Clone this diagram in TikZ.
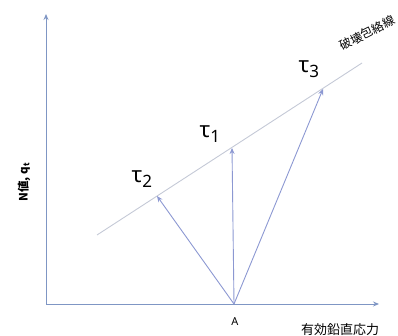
\documentclass[tikz,border=0pt]{standalone}
\usepackage{fontspec}
\setmainfont{Noto Sans}
\newfontfamily\jpfont{Noto Sans CJK JP}
\usetikzlibrary{arrows.meta}
\definecolor{axisblue}{HTML}{7F96C4}
\definecolor{vecblue}{HTML}{8C98D2}
\definecolor{envgray}{HTML}{C4C9D6}
\tikzset{
  axis/.style={draw=axisblue, line width=0.9pt, -{Stealth[length=6pt,width=5pt]}},
  vec/.style={draw=vecblue, line width=0.9pt, -{Stealth[length=6pt,width=5pt]}},
  tlabel/.style={font=\fontsize{22}{24}\selectfont, inner sep=0pt}
}
\begin{document}
\begin{tikzpicture}[x=1pt, y=1pt]
			\useasboundingbox (0,0) rectangle (398,336);
			% Coordinates of the axes and of the vector tips
			\coordinate (O) at (46,32);
			\coordinate (Ytop) at (46,322);
			\coordinate (Xend) at (379,32);
			\coordinate (A) at (234,32);
			\coordinate (E1) at (97,101);
			\coordinate (E2) at (362,273);
			\coordinate (T1) at (232,188);
			\coordinate (T2) at (157,140);
			\coordinate (T3) at (323,247);
			
			% Failure envelope
			\draw[envgray, line width=0.9pt] (E1) -- (E2);
			
			% Axes
			\draw[axis] (O) -- (Ytop);
			\draw[axis] (O) -- (Xend);
			
			% Stress vectors from A
			\draw[vec] (A) -- (T2);
			\draw[vec] (A) -- (T1);
			\draw[vec] (A) -- (T3);
			
			% Labels
			\node[tlabel] (L1) at (210,202) {τ\textsubscript{\fontsize{17}{18}\selectfont 1}};
			\node[tlabel] (L2) at (142,157) {τ\textsubscript{\fontsize{17}{18}\selectfont 2}};
			\node[tlabel] (L3) at (309,267) {τ\textsubscript{\fontsize{17}{18}\selectfont 3}};
			\node[font=\fontsize{11}{12}\selectfont] (LA) at (235,14) {A};
			\node[font=\jpfont\fontsize{13}{14}\selectfont] (LX) at (340,6) {有効鉛直応力};
			\node[font=\jpfont\bfseries\fontsize{11.5}{12}\selectfont, rotate=90] (LY) at (24,154) {N値, q\textsubscript{t}};
			\node[font=\jpfont\fontsize{12}{13}\selectfont, rotate=27] (LE) at (367,303) {破壊包絡線};
		\end{tikzpicture}
\end{document}
